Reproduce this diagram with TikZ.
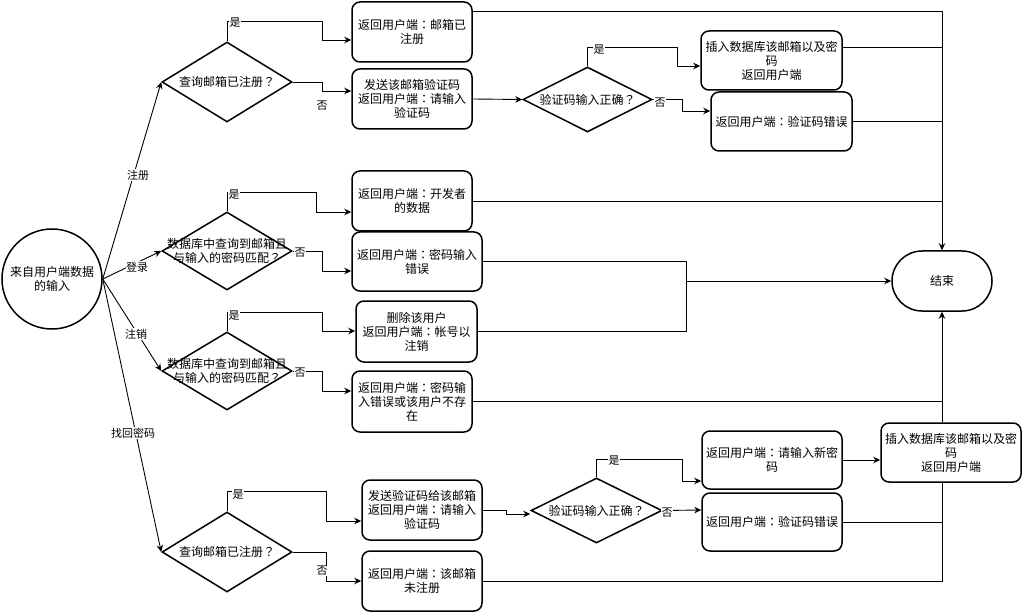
\documentclass[tikz,border=0pt]{standalone}
\usepackage{fontspec}
\setmainfont{Noto Sans CJK SC}
\newfontfamily\punctfont{Noto Sans CJK JP}
\newcommand\cln{{\punctfont ：}}
\newcommand\qmk{{\punctfont ？}}
\usetikzlibrary{shapes.geometric,arrows.meta}
\begin{document}
\begin{tikzpicture}[x=1pt,y=-1pt,
  box/.style={draw,line width=1.5pt,rounded corners=8pt,fill=white,align=center,inner sep=1pt,font=\fontsize{12}{14}\selectfont},
  dia/.style={draw,diamond,line width=1.5pt,inner sep=0pt,fill=white},
  dtxt/.style={align=center,inner sep=0pt,font=\fontsize{12}{14}\selectfont},
  con/.style={line width=0.9pt},
  arr/.style={con,-{Stealth[length=7pt,width=6.5pt]}},
  lbl/.style={font=\fontsize{11}{13}\selectfont,inner sep=0.5pt,fill=white}]
\useasboundingbox (0,0) rectangle (1022,612);

% start / end
\node[draw,circle,line width=1.5pt,minimum size=100pt,inner sep=0pt,align=center,font=\fontsize{12}{14}\selectfont] (start) at (52,279) {来自用户端数据\\的输入};
\node[draw,line width=1.5pt,rounded corners=30pt,minimum width=100pt,minimum height=60pt,font=\fontsize{12}{14}\selectfont] (end) at (942,281) {结束};

% diamonds
\node[dia,minimum width=130pt,minimum height=80pt] (d1) at (227,82) {};
\node[dtxt] (t1) at (d1) {查询邮箱已注册\qmk};
\node[dia,minimum width=130pt,minimum height=78pt] (d2) at (227,251) {};
\node[dtxt] (t2) at (d2) {数据库中查询到邮箱且\\与输入的密码匹配\qmk};
\node[dia,minimum width=130pt,minimum height=78pt] (d3) at (227,371) {};
\node[dtxt] (t3) at (d3) {数据库中查询到邮箱且\\与输入的密码匹配\qmk};
\node[dia,minimum width=130pt,minimum height=80pt] (d4) at (227,552) {};
\node[dtxt] (t4) at (d4) {查询邮箱已注册\qmk};
\node[dia,minimum width=129pt,minimum height=65pt] (d5) at (587.5,99.5) {};
\node[dtxt] (t5) at (d5) {验证码输入正确\qmk};
\node[dia,minimum width=131pt,minimum height=65pt] (d6) at (596.5,510.5) {};
\node[dtxt] (t6) at (d6) {验证码输入正确\qmk};

% boxes
\node[box,minimum width=120pt,minimum height=60pt] (b1) at (412,32) {返回用户端\cln 邮箱已\\注册};
\node[box,minimum width=120pt,minimum height=60pt] (b2) at (412,99) {发送该邮箱验证码\\返回用户端\cln 请输入\\验证码};
\node[box,minimum width=141pt,minimum height=59pt] (b3) at (771.5,60.5) {插入数据库该邮箱以及密\\码\\返回用户端};
\node[box,minimum width=141pt,minimum height=59pt] (b4) at (781.5,121.5) {返回用户端\cln 验证码错误};
\node[box,minimum width=120pt,minimum height=60pt] (b5) at (412,201) {返回用户端\cln 开发者\\的数据};
\node[box,minimum width=130pt,minimum height=59pt] (b6) at (417,261.5) {返回用户端\cln 密码输入\\错误};
\node[box,minimum width=121pt,minimum height=61pt] (b7) at (416.5,331.5) {删除该用户\\返回用户端\cln 帐号以\\注销};
\node[box,minimum width=120pt,minimum height=61pt] (b8) at (412,401.5) {返回用户端\cln 密码输\\入错误或该用户不存\\在};
\node[box,minimum width=120pt,minimum height=60pt] (b9) at (422,510) {发送验证码给该邮箱\\返回用户端\cln 请输入\\验证码};
\node[box,minimum width=120pt,minimum height=60pt] (b10) at (422,581) {返回用户端\cln 该邮箱\\未注册};
\node[box,minimum width=140pt,minimum height=58pt] (b11) at (772,460) {返回用户端\cln 请输入新密\\码};
\node[box,minimum width=140pt,minimum height=58pt] (b12) at (772,522) {返回用户端\cln 验证码错误};
\node[box,minimum width=140pt,minimum height=59pt] (b13) at (951,452.5) {插入数据库该邮箱以及密\\码\\返回用户端};

% from start
\draw[arr] (start.east) -- (d1.west);
\draw[arr] (start.east) -- (d2.west);
\draw[arr] (start.east) -- (d3.west);
\draw[arr] (start.east) -- (d4.west);
\node[lbl] (lr) at (138,175) {注册};
\node[lbl] (ll) at (137,267) {登录};
\node[lbl] (lc) at (136,334) {注销};
\node[lbl] (lf) at (133,433) {找回密码};

% register branch
\draw[arr] (d1.north) |- (322,21) |- (b1.west |- 0,40);
\node[lbl] (y1) at (235,23) {是};
\draw[arr] (d1.east) -| (322,91) -- (b2.west |- 0,91);
\node[lbl] (n1) at (322,106) {否};
\draw[arr] (b2.east) -- (d5.west);
\draw[arr] (d5.north) |- (677,47) |- (b3.west |- 0,66);
\node[lbl] (y5) at (599,50) {是};
\draw[arr] (d5.east) -| (682,111) -- (b4.west |- 0,111);
\node[lbl] (n5) at (660,103) {否};

% login branch
\draw[arr] (d2.north) |- (316,192) |- (b5.west |- 0,212);
\node[lbl] (y2) at (234,195) {是};
\draw[arr] (d2.east) -| (322,271) -- (b6.west |- 0,271);
\node[lbl] (n2) at (300,253) {否};

% cancel branch
\draw[arr] (d3.north) |- (322,312) |- (b7.west |- 0,331);
\node[lbl] (y3) at (234,316) {是};
\draw[arr] (d3.east) -| (322,391) -- (b8.west |- 0,391);
\node[lbl] (n3) at (300,373) {否};

% password recovery branch
\draw[arr] (d4.north) |- (326,491) |- (b9.west |- 0,521);
\node[lbl] (y4) at (238,495) {是};
\draw[arr] (d4.east) -| (326,581) -- (b10.west);
\node[lbl] (n4) at (322,571) {否};
\draw[arr] (b9.east) -| (506,514) -- (d6.west |- 0,514);
\draw[arr] (d6.north) |- (682,459) |- (b11.west |- 0,481);
\node[lbl] (y6) at (614,461) {是};
\draw[arr] (d6.east) -- (b12.west |- 0,510);
\node[lbl] (n6) at (667,513) {否};
\draw[arr] (b11.east) -- (b13.west |- b11.east);

% to end
\draw[arr] (b1.east |- 0,11) -| (end.north);
\draw[con] (b3.east |- 0,47) -- (end.north |- 0,47);
\draw[con] (b4.east) -- (end.north |- b4.east);
\draw[con] (b5.east) -- (end.north |- b5.east);
\draw[arr] (b6.east) -| (686,281) -- (end.west);
\draw[con] (b7.east) -| (686,281);
\draw[con] (b8.east) -- (end.south |- b8.east);
\draw[arr] (b13.north -| end.south) -- (end.south);
\draw[con] (b12.east) -- (end.south |- b12.east);
\draw[con] (b10.east) -| (b13.south -| end.south);
\end{tikzpicture}
\end{document}
